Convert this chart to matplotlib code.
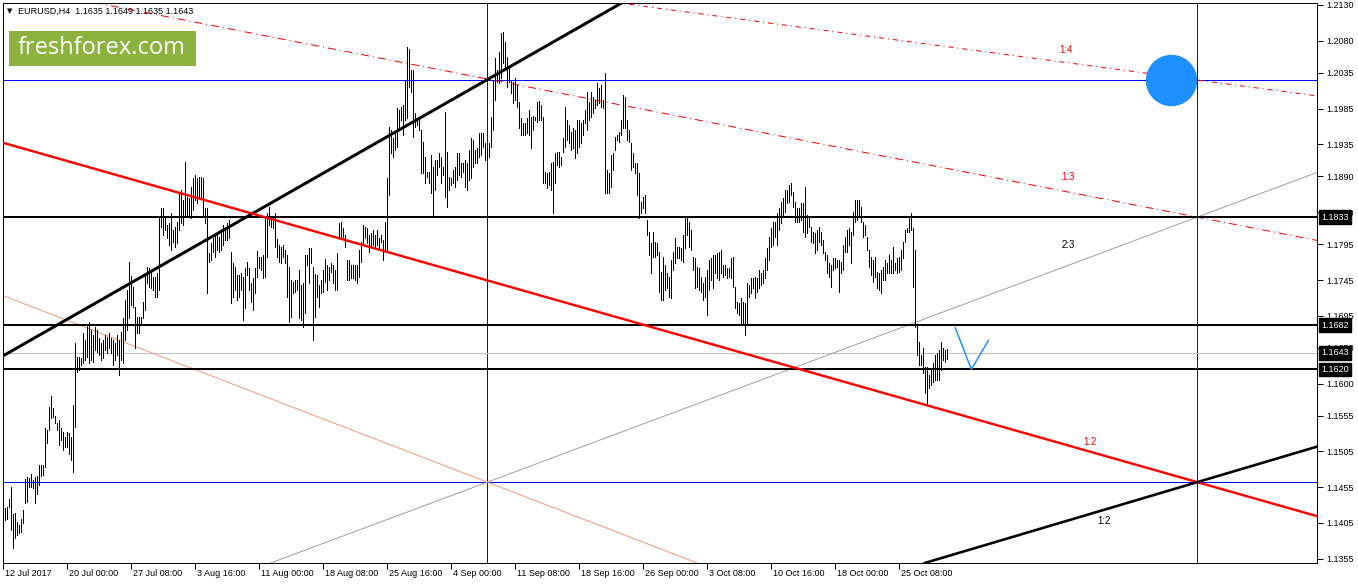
import numpy as np
import matplotlib
matplotlib.use('Agg')
import matplotlib.pyplot as plt
from matplotlib.transforms import ScaledTranslation

# EURUSD H4 bars, first bar 12 Jul 2017 16:00 (high / low)
highs = np.array([
    1.1468, 1.1426, 1.1427, 1.1438, 1.1455, 1.1417, 1.1419, 1.1406, 1.1402, 1.1410,
    1.1423, 1.1466, 1.1469, 1.1468, 1.1473, 1.1465, 1.1469, 1.1471, 1.1486, 1.1486,
    1.1486, 1.1538, 1.1535, 1.1567, 1.1583, 1.1566, 1.1555, 1.1545, 1.1549, 1.1538,
    1.1532, 1.1525, 1.1532, 1.1531, 1.1525, 1.1570, 1.1657, 1.1637, 1.1637, 1.1636,
    1.1671, 1.1661, 1.1682, 1.1686, 1.1675, 1.1668, 1.1679, 1.1675, 1.1664, 1.1657,
    1.1661, 1.1668, 1.1665, 1.1671, 1.1664, 1.1661, 1.1657, 1.1668, 1.1661, 1.1672,
    1.1692, 1.1717, 1.1731, 1.1770, 1.1751, 1.1735, 1.1707, 1.1693, 1.1693, 1.1693,
    1.1714, 1.1755, 1.1763, 1.1762, 1.1759, 1.1749, 1.1749, 1.1755, 1.1832, 1.1846,
    1.1846, 1.1833, 1.1822, 1.1825, 1.1839, 1.1815, 1.1819, 1.1826, 1.1868, 1.1871,
    1.1857, 1.1910, 1.1861, 1.1860, 1.1875, 1.1888, 1.1892, 1.1888, 1.1889, 1.1889,
    1.1888, 1.1846, 1.1846, 1.1783, 1.1797, 1.1804, 1.1808, 1.1812, 1.1805, 1.1811,
    1.1822, 1.1818, 1.1825, 1.1829, 1.1784, 1.1769, 1.1763, 1.1752, 1.1752, 1.1755,
    1.1749, 1.1762, 1.1770, 1.1762, 1.1741, 1.1748, 1.1762, 1.1786, 1.1777, 1.1777,
    1.1780, 1.1833, 1.1839, 1.1847, 1.1832, 1.1832, 1.1839, 1.1802, 1.1794, 1.1791,
    1.1794, 1.1787, 1.1780, 1.1763, 1.1745, 1.1742, 1.1745, 1.1745, 1.1759, 1.1738,
    1.1741, 1.1780, 1.1780, 1.1790, 1.1790, 1.1763, 1.1753, 1.1752, 1.1738, 1.1745,
    1.1759, 1.1774, 1.1766, 1.1763, 1.1769, 1.1766, 1.1759, 1.1783, 1.1825, 1.1826,
    1.1818, 1.1808, 1.1773, 1.1773, 1.1766, 1.1766, 1.1766, 1.1766, 1.1787, 1.1798,
    1.1822, 1.1819, 1.1818, 1.1808, 1.1811, 1.1815, 1.1808, 1.1815, 1.1804, 1.1808,
    1.1801, 1.1826, 1.1888, 1.1959, 1.1955, 1.1944, 1.1951, 1.1986, 1.1983, 1.1987,
    1.1990, 1.2025, 1.2071, 1.2068, 1.2039, 1.2039, 1.1979, 1.1969, 1.1969, 1.1955,
    1.1938, 1.1917, 1.1896, 1.1896, 1.1920, 1.1903, 1.1913, 1.1913, 1.1923, 1.1917,
    1.1903, 1.1980, 1.1924, 1.1889, 1.1888, 1.1899, 1.1903, 1.1923, 1.1923, 1.1909,
    1.1909, 1.1913, 1.1909, 1.1927, 1.1944, 1.1941, 1.1927, 1.1930, 1.1951, 1.1951,
    1.1951, 1.1937, 1.1930, 1.1937, 1.1973, 1.2025, 1.2056, 1.2039, 1.2064, 1.2091,
    1.2092, 1.2078, 1.2057, 1.2042, 1.2025, 1.2022, 1.2028, 1.2018, 1.1994, 1.1972,
    1.1965, 1.1965, 1.1972, 1.1983, 1.1973, 1.1975, 1.1973, 1.1994, 1.1996, 1.1990,
    1.1973, 1.1896, 1.1895, 1.1896, 1.1909, 1.1910, 1.1923, 1.1924, 1.1924, 1.1917,
    1.1944, 1.1987, 1.1969, 1.1962, 1.1952, 1.1958, 1.1955, 1.1969, 1.1969, 1.1965,
    1.1969, 1.1983, 1.2008, 1.1994, 1.2008, 1.2001, 1.1997, 1.2021, 1.2014, 1.2018,
    1.1997, 1.2035, 1.1899, 1.1895, 1.1920, 1.1923, 1.1945, 1.1948, 1.1952, 1.1969,
    1.2004, 1.2001, 1.1969, 1.1955, 1.1937, 1.1923, 1.1909, 1.1909, 1.1895, 1.1854,
    1.1861, 1.1864, 1.1829, 1.1812, 1.1797, 1.1812, 1.1798, 1.1797, 1.1784, 1.1756,
    1.1777, 1.1766, 1.1755, 1.1749, 1.1773, 1.1784, 1.1804, 1.1791, 1.1791, 1.1790,
    1.1808, 1.1833, 1.1832, 1.1826, 1.1815, 1.1777, 1.1776, 1.1763, 1.1762, 1.1749,
    1.1741, 1.1749, 1.1759, 1.1773, 1.1776, 1.1780, 1.1780, 1.1783, 1.1784, 1.1787,
    1.1766, 1.1766, 1.1762, 1.1762, 1.1776, 1.1777, 1.1735, 1.1714, 1.1713, 1.1720,
    1.1714, 1.1713, 1.1741, 1.1738, 1.1748, 1.1748, 1.1749, 1.1748, 1.1759, 1.1755,
    1.1759, 1.1776, 1.1790, 1.1805, 1.1818, 1.1826, 1.1826, 1.1839, 1.1846, 1.1854,
    1.1860, 1.1871, 1.1871, 1.1878, 1.1881, 1.1868, 1.1854, 1.1846, 1.1846, 1.1853,
    1.1853, 1.1875, 1.1836, 1.1832, 1.1819, 1.1812, 1.1811, 1.1815, 1.1819, 1.1812,
    1.1801, 1.1784, 1.1780, 1.1769, 1.1766, 1.1776, 1.1776, 1.1773, 1.1773, 1.1770,
    1.1794, 1.1805, 1.1815, 1.1818, 1.1812, 1.1840, 1.1857, 1.1857, 1.1857, 1.1847,
    1.1826, 1.1822, 1.1805, 1.1787, 1.1777, 1.1773, 1.1777, 1.1756, 1.1755, 1.1759,
    1.1763, 1.1773, 1.1769, 1.1780, 1.1773, 1.1791, 1.1769, 1.1776, 1.1777, 1.1787,
    1.1798, 1.1815, 1.1818, 1.1832, 1.1839, 1.1818, 1.1787, 1.1682, 1.1658, 1.1640,
    1.1650, 1.1623, 1.1623, 1.1612, 1.1619, 1.1629, 1.1640, 1.1643, 1.1647, 1.1658,
    1.1650, 1.1647, 1.1649,
])
lows = np.array([
    1.1391, 1.1409, 1.1410, 1.1427, 1.1395, 1.1370, 1.1384, 1.1388, 1.1391, 1.1392,
    1.1405, 1.1433, 1.1434, 1.1455, 1.1455, 1.1454, 1.1433, 1.1445, 1.1458, 1.1471,
    1.1472, 1.1483, 1.1517, 1.1535, 1.1552, 1.1553, 1.1545, 1.1535, 1.1514, 1.1521,
    1.1507, 1.1511, 1.1511, 1.1501, 1.1493, 1.1476, 1.1539, 1.1616, 1.1619, 1.1626,
    1.1629, 1.1633, 1.1637, 1.1629, 1.1633, 1.1630, 1.1647, 1.1644, 1.1640, 1.1633,
    1.1636, 1.1647, 1.1643, 1.1650, 1.1643, 1.1626, 1.1633, 1.1640, 1.1612, 1.1633,
    1.1629, 1.1661, 1.1675, 1.1692, 1.1710, 1.1707, 1.1650, 1.1671, 1.1671, 1.1682,
    1.1692, 1.1703, 1.1741, 1.1735, 1.1734, 1.1731, 1.1721, 1.1721, 1.1731, 1.1819,
    1.1808, 1.1815, 1.1804, 1.1794, 1.1787, 1.1798, 1.1791, 1.1797, 1.1815, 1.1825,
    1.1822, 1.1833, 1.1836, 1.1833, 1.1832, 1.1843, 1.1857, 1.1853, 1.1860, 1.1861,
    1.1836, 1.1825, 1.1727, 1.1770, 1.1773, 1.1784, 1.1777, 1.1787, 1.1784, 1.1787,
    1.1794, 1.1801, 1.1801, 1.1804, 1.1713, 1.1721, 1.1731, 1.1717, 1.1721, 1.1731,
    1.1689, 1.1706, 1.1752, 1.1731, 1.1714, 1.1703, 1.1727, 1.1749, 1.1762, 1.1759,
    1.1748, 1.1749, 1.1777, 1.1822, 1.1819, 1.1818, 1.1791, 1.1777, 1.1770, 1.1769,
    1.1777, 1.1769, 1.1721, 1.1686, 1.1693, 1.1727, 1.1728, 1.1731, 1.1692, 1.1689,
    1.1679, 1.1699, 1.1766, 1.1741, 1.1769, 1.1661, 1.1693, 1.1721, 1.1707, 1.1727,
    1.1728, 1.1742, 1.1731, 1.1745, 1.1756, 1.1741, 1.1731, 1.1731, 1.1804, 1.1805,
    1.1805, 1.1791, 1.1745, 1.1745, 1.1748, 1.1748, 1.1745, 1.1741, 1.1749, 1.1770,
    1.1794, 1.1804, 1.1797, 1.1784, 1.1791, 1.1794, 1.1790, 1.1794, 1.1790, 1.1798,
    1.1773, 1.1784, 1.1784, 1.1864, 1.1923, 1.1917, 1.1927, 1.1931, 1.1955, 1.1969,
    1.1948, 1.1969, 1.1972, 1.2015, 1.2008, 1.1945, 1.1959, 1.1962, 1.1955, 1.1895,
    1.1895, 1.1881, 1.1889, 1.1881, 1.1867, 1.1836, 1.1871, 1.1892, 1.1903, 1.1881,
    1.1892, 1.1861, 1.1847, 1.1871, 1.1878, 1.1881, 1.1875, 1.1885, 1.1892, 1.1889,
    1.1896, 1.1875, 1.1871, 1.1885, 1.1888, 1.1903, 1.1909, 1.1909, 1.1917, 1.1920,
    1.1931, 1.1913, 1.1913, 1.1917, 1.1931, 1.1955, 1.1997, 1.2022, 1.2021, 1.2028,
    1.2049, 1.2042, 1.2015, 1.2022, 1.2007, 1.1993, 1.1997, 1.1987, 1.1958, 1.1948,
    1.1948, 1.1948, 1.1951, 1.1948, 1.1930, 1.1955, 1.1969, 1.1966, 1.1969, 1.1969,
    1.1881, 1.1881, 1.1874, 1.1878, 1.1871, 1.1839, 1.1881, 1.1906, 1.1903, 1.1906,
    1.1924, 1.1931, 1.1941, 1.1937, 1.1927, 1.1930, 1.1916, 1.1923, 1.1931, 1.1937,
    1.1948, 1.1965, 1.1955, 1.1969, 1.1973, 1.1979, 1.1986, 1.1990, 1.1993, 1.1987,
    1.1986, 1.1867, 1.1867, 1.1867, 1.1875, 1.1899, 1.1927, 1.1941, 1.1938, 1.1948,
    1.1958, 1.1958, 1.1941, 1.1938, 1.1899, 1.1903, 1.1895, 1.1864, 1.1832, 1.1839,
    1.1846, 1.1839, 1.1808, 1.1780, 1.1755, 1.1777, 1.1777, 1.1780, 1.1728, 1.1717,
    1.1717, 1.1731, 1.1734, 1.1721, 1.1720, 1.1759, 1.1769, 1.1776, 1.1776, 1.1773,
    1.1770, 1.1790, 1.1808, 1.1791, 1.1787, 1.1759, 1.1734, 1.1735, 1.1731, 1.1728,
    1.1717, 1.1721, 1.1696, 1.1731, 1.1745, 1.1734, 1.1755, 1.1748, 1.1745, 1.1755,
    1.1749, 1.1752, 1.1748, 1.1749, 1.1748, 1.1735, 1.1706, 1.1699, 1.1696, 1.1685,
    1.1685, 1.1668, 1.1682, 1.1721, 1.1727, 1.1734, 1.1720, 1.1728, 1.1734, 1.1738,
    1.1741, 1.1748, 1.1759, 1.1773, 1.1791, 1.1794, 1.1805, 1.1794, 1.1815, 1.1825,
    1.1833, 1.1840, 1.1853, 1.1854, 1.1864, 1.1847, 1.1826, 1.1826, 1.1826, 1.1829,
    1.1812, 1.1805, 1.1811, 1.1819, 1.1798, 1.1797, 1.1783, 1.1787, 1.1798, 1.1794,
    1.1783, 1.1773, 1.1755, 1.1749, 1.1735, 1.1759, 1.1762, 1.1763, 1.1728, 1.1755,
    1.1759, 1.1784, 1.1784, 1.1794, 1.1769, 1.1808, 1.1826, 1.1829, 1.1836, 1.1826,
    1.1805, 1.1808, 1.1787, 1.1763, 1.1752, 1.1742, 1.1749, 1.1734, 1.1731, 1.1727,
    1.1745, 1.1745, 1.1755, 1.1755, 1.1755, 1.1755, 1.1759, 1.1755, 1.1756, 1.1759,
    1.1776, 1.1798, 1.1812, 1.1812, 1.1815, 1.1735, 1.1679, 1.1640, 1.1626, 1.1626,
    1.1615, 1.1587, 1.1573, 1.1594, 1.1598, 1.1602, 1.1605, 1.1605, 1.1605, 1.1619,
    1.1633, 1.1630, 1.1635,
])
last_ohlc = [1.1635, 1.1649, 1.1635, 1.1643]

# time axis labels (one every 32 bars)
tick_bars = [0, 32, 64, 96, 128, 160, 192, 224, 256, 288, 320, 352, 384, 416, 448]
tick_labels = ['12 Jul 2017', '20 Jul 00:00', '27 Jul 08:00', '3 Aug 16:00',
               '11 Aug 00:00', '18 Aug 08:00', '25 Aug 16:00', '4 Sep 00:00',
               '11 Sep 08:00', '18 Sep 16:00', '26 Sep 00:00', '3 Oct 08:00',
               '10 Oct 16:00', '18 Oct 00:00', '25 Oct 08:00']
price_ticks = [1.2130, 1.2080, 1.2035, 1.1985, 1.1935, 1.1890, 1.1840, 1.1795,
               1.1745, 1.1695, 1.1650, 1.1600, 1.1555, 1.1505, 1.1455, 1.1405, 1.1355]

# drawn objects
black_levels = [1.1833, 1.1682, 1.1620]
blue_levels = [1.2025, 1.1462]
blue_verticals = [242, 597]
current_price = 1.1643
channel_line = [(0, 1.1639), (308, 1.2131)]
red_line = [(0, 1.1937), (597, 1.1462)]
salmon_line = [(0, 1.1723), (242, 1.1462)]
grey_line = [(242, 1.1462), (597, 1.1833)]
black_line2 = [(597, 1.1462), (656, 1.1511)]
fan_13 = [(318, 1.1985), (597, 1.1833)]
fan_14 = [(597, 1.2025), (656, 1.2003)]
circle_pt = (584, 1.2025)
vee_bars = [476, 484, 492.5]
vee_prices = [1.1678, 1.1620, 1.1660]
fan_labels = [('1:4', 528, 1.2067, 'red'), ('1:3', 529, 1.1889, 'red'),
              ('2:3', 529, 1.1794, 'black'), ('1:2', 540, 1.1518, 'red'),
              ('1:2', 547, 1.1408, 'black')]

W, H = 1358, 584
fig = plt.figure(figsize=(W / 100, H / 100), dpi=100)
ax = fig.add_axes([2.5 / W, 21 / H, (1317 - 2.5) / W, (563 - 2.5) / H])
ax.set_xlim(-0.4, 656.85)
ax.set_ylim(1.13488, 1.21335)
px = 0.72  # one pixel in points

for lv in blue_levels:
    ax.axhline(lv, color='#0000ff', lw=px, zorder=1)
for b in blue_verticals:
    ax.axvline(b, color='#0000ff', lw=px, zorder=1)
ax.axhline(current_price, color='#c0c0c0', lw=px, zorder=1)

ax.axline(*salmon_line, color='#f59a78', lw=px, zorder=2)
ax.axline(*grey_line, color='#a0a0a0', lw=px, zorder=2)
ax.axline(*fan_13, color='red', lw=px, ls=(0, (8, 4, 1, 4)), zorder=2)
ax.axline(*fan_14, color='red', lw=px, ls=(0, (5, 4, 1, 4)), zorder=2)

idx = np.arange(len(highs))
ax.vlines(idx, lows, highs, color='black', lw=px, antialiased=False, zorder=3)

for lv in black_levels:
    ax.axhline(lv, color='black', lw=2 * px, zorder=4)
ax.axline(*channel_line, color='black', lw=3 * px, zorder=4)
ax.axline(*red_line, color='#ff0000', lw=2.4 * px, zorder=4)
ax.axline(*black_line2, color='black', lw=2.6 * px, zorder=4)

ax.plot(vee_bars, vee_prices, color='#1e90ff', lw=1.5 * px, zorder=5)
ax.plot(*circle_pt, marker='o', ms=36, color='#1e90ff', mec='#1e90ff', zorder=5)

for txt, b, p, c in fan_labels:
    ax.text(b, p, txt, color=c, fontsize=7, family='Liberation Sans',
            ha='left', va='center', zorder=6)

# axes look
for s in ax.spines.values():
    s.set_linewidth(px)
    s.set_color('black')
ax.yaxis.tick_right()
ax.set_yticks(price_ticks)
ax.set_yticklabels(['%.4f' % v for v in price_ticks], family='Liberation Sans', fontsize=6.5)
ax.tick_params(axis='y', direction='out', length=4, width=px, pad=3)
ax.set_xticks(tick_bars)
ax.set_xticklabels(tick_labels, family='Liberation Sans', fontsize=6.5, ha='left')
ax.tick_params(axis='x', direction='out', length=4, width=px, pad=0.5)
for lab in ax.get_xticklabels():
    lab.set_transform(lab.get_transform() + ScaledTranslation(2 / 100, 0, fig.dpi_scale_trans))

# price boxes on the scale
for lv in black_levels + [current_price]:
    ax.annotate('%.4f' % lv, xy=(1, lv), xycoords=('axes fraction', 'data'),
                xytext=(4, 0), textcoords='offset pixels', color='white',
                fontsize=6.5, family='Liberation Sans', va='center', ha='left',
                bbox=dict(boxstyle='square,pad=0.25', fc='black', ec='black'),
                annotation_clip=False, zorder=7)

# header and logo
fig.text(7 / W, 1 - 11 / H, '\u25bc', fontsize=5, va='center', ha='left', family='DejaVu Sans')
fig.text(18 / W, 1 - 11 / H, 'EURUSD,H4  ' + ' '.join('%.4f' % v for v in last_ohlc),
         fontsize=6.5, va='center', ha='left', family='Liberation Sans')
fig.patches.append(plt.Rectangle((9 / W, 1 - 66 / H), 187 / W, 35 / H,
                                 transform=fig.transFigure, fc='#8db33f', ec='none'))
fig.text(102 / W, 1 - 48.5 / H, 'freshforex.com', color='white', fontsize=17,
         family='Open Sans', va='center', ha='center')

fig.savefig('out.png', dpi=100)
